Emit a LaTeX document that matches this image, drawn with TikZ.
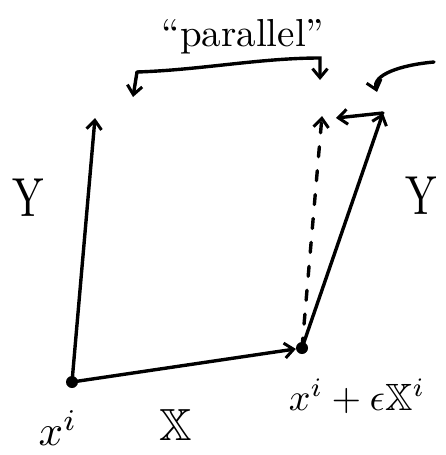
\documentclass[tikz,border=0pt]{standalone}
\usepackage{amssymb}
\usetikzlibrary{arrows.meta}
\begin{document}
\begin{tikzpicture}[x=1pt,y=-1pt,
  vec/.style={line width=3.4pt,line cap=round,-{Straight Barb[length=9pt,width=15pt,line width=3pt]}},
  lbl/.style={inner sep=0pt},
  dotpt/.style={circle,fill=black,inner sep=0pt,minimum size=12pt}]
\useasboundingbox (0,0) rectangle (445,455);
\node[dotpt] (p) at (72,382) {};
\node[dotpt] (q) at (302,348) {};
\coordinate (lt) at (95,118);
\coordinate (rt) at (383,113);
\coordinate (dt) at (322,116);
\coordinate (at) at (336,118);
\draw[vec] (p.center) -- (lt);
\draw[vec] (p.center) -- (q);
\draw[vec] (q.center) -- (rt);
\draw[vec,dash pattern=on 10pt off 14pt] (q.center) -- (dt);
\draw[vec] (rt) -- (at);
% bracket
\coordinate (b0) at (137,72);
\coordinate (b1) at (133,97);
\coordinate (b2) at (320,80);
\draw[vec] (b0) .. controls (200,70) and (260,58) .. (320,58) -- (b2);
\draw[vec] (b0) -- (b1);
% curved arrow
\coordinate (c1) at (434,62);
\coordinate (c2) at (377,92);
\draw[vec] (c1) .. controls (400,65) and (372,75) .. (c2);
% labels
\node[lbl,scale=3.9] (par) at (243,37) {``parallel''};
\node[lbl,xscale=4.2,yscale=5.5] (y1) at (28,198) {Y};
\node[lbl,xscale=4.2,yscale=5.5] (y2) at (421,196) {Y};
\node[lbl,scale=4.3] (xi) at (58,428) {$x^i$};
\node[lbl,scale=4.5] (X) at (176,425) {$\mathbb{X}$};
\node[lbl,scale=3.8] (xe) at (357,396) {$x^i+\epsilon\mathbb{X}^i$};
\end{tikzpicture}
\end{document}
